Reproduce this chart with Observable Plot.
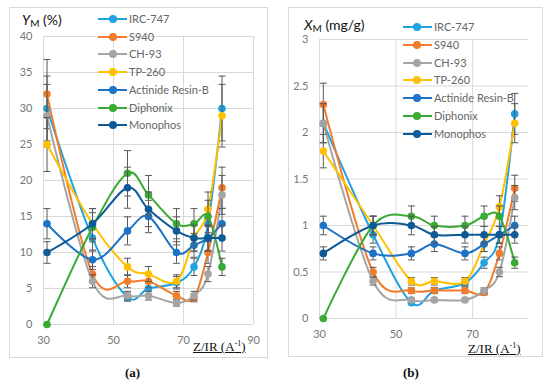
<!DOCTYPE html>
<html><head><meta charset="utf-8">
<script src="https://cdn.jsdelivr.net/npm/d3@7"></script>
<script src="https://cdn.jsdelivr.net/npm/@observablehq/plot@0.6"></script>
<style>
body{margin:0;background:#fff;}
#root{position:relative;width:550px;height:382px;overflow:hidden;font-family:Lato,"Open Sans",sans-serif;}
.box{position:absolute;border:1px solid #d9d9d9;box-sizing:border-box;}
.abs{position:absolute;white-space:nowrap;}
.ytitle{font-family:Lato,sans-serif;font-size:14px;color:#111;line-height:1;}
.ytitle i{font-style:italic;}
.ytitle sub{font-size:10px;vertical-align:-2px;line-height:1;}
.xtitle{font-family:"Liberation Serif","Times New Roman",serif;font-size:13px;color:#111;text-decoration:underline;line-height:1;}
.xtitle sup{font-size:8px;vertical-align:5px;line-height:1;}
.plabel{font-family:"Liberation Serif","Times New Roman",serif;font-size:13px;font-weight:bold;color:#111;line-height:1;}
.legtext{font-size:11px;color:#666;line-height:1;}
svg{position:absolute;}
</style>
</head><body>
<div id="root"></div>
<script>
// ---- data ----
const zir = [31, 44, 54, 60, 68, 73, 77, 81];
const resins = ["IRC-747", "S940", "CH-93", "TP-260", "Actinide Resin-B", "Diphonix", "Monophos"];
const resinColors = ["#1fa2e0", "#f27b2c", "#a5a5a5", "#ffc000", "#1b72c6", "#3aaa35", "#0d5a97"];

// (a) Y_M (%)
const ymIRC747   = [30, 12, 3.8, 5, 5.8, 8, 14, 30];
const ymS940     = [32, 7, 6, 6, 4, 3.7, 10, 19];
const ymCH93     = [29, 6, 4, 4, 3, 4, 7, 18];
const ymTP260    = [25, 14, 8, 7, 6, 12, 16, 29];
const ymActinide = [14, 9, 13, 15, 10, 11, 12, 14];
const ymDiphonix = [0, 13.5, 21, 18, 14, 14, 15, 8];
const ymMonophos = [10, 14, 19, 16, 13, 12, 12, 12];
const ymRelError = 0.15;

// (b) X_M (mg/g)
const xmIRC747   = [2.1, 0.9, 0.17, 0.3, 0.38, 0.6, 0.9, 2.2];
const xmS940     = [2.3, 0.5, 0.3, 0.3, 0.3, 0.28, 0.7, 1.4];
const xmCH93     = [2.1, 0.4, 0.2, 0.2, 0.2, 0.3, 0.5, 1.3];
const xmTP260    = [1.8, 1.0, 0.4, 0.4, 0.4, 0.8, 1.2, 2.1];
const xmActinide = [1.0, 0.7, 0.7, 0.8, 0.7, 0.8, 0.9, 1.0];
const xmDiphonix = [0, 1.0, 1.1, 1.0, 1.0, 1.1, 1.1, 0.6];
const xmMonophos = [0.7, 1.0, 1.0, 0.9, 0.9, 0.9, 0.9, 0.9];
const xmRelError = 0.10;

const xTicksA = [30, 50, 70, 90];
const yTicksA = [0, 5, 10, 15, 20, 25, 30, 35, 40];
const xTicksB = [30, 50, 70];
const yTicksB = [0, 0.5, 1, 1.5, 2, 2.5, 3];

const seriesA = [ymIRC747, ymS940, ymCH93, ymTP260, ymActinide, ymDiphonix, ymMonophos];
const seriesB = [xmIRC747, xmS940, xmCH93, xmTP260, xmActinide, xmDiphonix, xmMonophos];

// ---- drawing ----
const root = document.getElementById("root");
const cap = {draw(ctx){ ctx.moveTo(-3.5, 0); ctx.lineTo(3.5, 0); }};
const errColor = "#595959";

function panel({series, relErr, xDomain, yDomain, xTicks, yTicks, left, mTop, mBottom, mLeft, mRight, vGrid}) {
  const marks = [
    Plot.gridY(yTicks, {stroke: "#d9d9d9", strokeOpacity: 1}),
    Plot.gridX(vGrid, {stroke: "#d9d9d9", strokeOpacity: 1}),
    Plot.axisX(xTicks, {tickSize: 0, tickPadding: 12, tickFormat: d => String(d), label: null, fill: "#777"}),
    Plot.axisY(yTicks, {tickSize: 0, tickPadding: 11, tickFormat: d => String(d), label: null, fill: "#777"})
  ];
  series.forEach((vals, k) => {
    const rows = zir.map((x, i) => ({x, y: vals[i], e: vals[i] * relErr}));
    const c = resinColors[k];
    marks.push(Plot.line(rows, {x: "x", y: "y", stroke: c, strokeWidth: 2, curve: "cardinal"}));
    marks.push(Plot.ruleX(rows, {x: "x", y1: d => d.y - d.e, y2: d => d.y + d.e, stroke: errColor, strokeWidth: 1}));
    marks.push(Plot.dot(rows, {x: "x", y: d => d.y + d.e, symbol: cap, r: 3, fill: "none", stroke: errColor, strokeWidth: 1}));
    marks.push(Plot.dot(rows, {x: "x", y: d => d.y - d.e, symbol: cap, r: 3, fill: "none", stroke: errColor, strokeWidth: 1}));
    marks.push(Plot.dot(rows, {x: "x", y: "y", r: 3.8, fill: c, stroke: "none"}));
  });
  const svg = Plot.plot({
    width: 275, height: 362,
    marginTop: mTop, marginBottom: mBottom, marginLeft: mLeft, marginRight: mRight,
    x: {domain: xDomain}, y: {domain: yDomain},
    style: {fontFamily: "Lato, sans-serif", fontSize: "11px", background: "transparent", overflow: "visible"},
    marks
  });
  svg.style.left = left + "px";
  svg.style.top = "0px";
  return svg;
}

function addEl(html, cls, left, top) {
  const d = document.createElement("div");
  d.className = "abs " + cls;
  d.style.left = left + "px"; d.style.top = top + "px";
  d.innerHTML = html;
  root.appendChild(d);
  return d;
}
function addBox(l, t, r, b) {
  const d = document.createElement("div");
  d.className = "box";
  d.style.left = l + "px"; d.style.top = t + "px";
  d.style.width = (r - l) + "px"; d.style.height = (b - t) + "px";
  root.appendChild(d);
}
function legend(x0, x1, cx, tx, y0, dy) {
  resins.forEach((name, i) => {
    const y = y0 + i * dy;
    const ln = document.createElement("div");
    ln.className = "abs";
    Object.assign(ln.style, {left: x0 + "px", top: (y - 1) + "px", width: (x1 - x0) + "px", height: "2px", background: resinColors[i]});
    root.appendChild(ln);
    const dot = document.createElement("div");
    dot.className = "abs";
    Object.assign(dot.style, {left: (cx - 4) + "px", top: (y - 4) + "px", width: "8px", height: "8px", borderRadius: "50%", background: resinColors[i]});
    root.appendChild(dot);
    addEl(name, "legtext", tx, y - 6);
  });
}

addBox(9, 7, 268, 358);
addBox(288, 7, 543, 357);

// panel (a): plot area x 43..253, y 36..324
root.appendChild(panel({series: seriesA, relErr: ymRelError, xDomain: [30, 90], yDomain: [0, 40],
  xTicks: xTicksA, yTicks: yTicksA, vGrid: xTicksA, left: 0, mTop: 36, mBottom: 362 - 324, mLeft: 43, mRight: 275 - 253}));
// panel (b): plot area x 319..528, y 39..318
root.appendChild(panel({series: seriesB, relErr: xmRelError, xDomain: [30, 84.6], yDomain: [0, 3],
  xTicks: xTicksB, yTicks: yTicksB, vGrid: xTicksB, left: 275, mTop: 39, mBottom: 362 - 318, mLeft: 319 - 275, mRight: 550 - 528}));

legend(98, 127, 113, 129, 19, 17.7);
legend(403, 432, 417, 434, 27, 17.8);

addEl('<i>Y</i><sub>M</sub> (%)', "ytitle", 22, 13);
addEl('<i>X</i><sub>M</sub> (mg/g)', "ytitle", 304, 18);
addEl('Z/IR (A<sup>-1</sup>)', "xtitle", 193, 340);
addEl('Z/IR (A<sup>-1</sup>)', "xtitle", 468, 342);
addEl('(a)', "plabel", 125, 366);
addEl('(b)', "plabel", 403, 366);
</script>
</body></html>
